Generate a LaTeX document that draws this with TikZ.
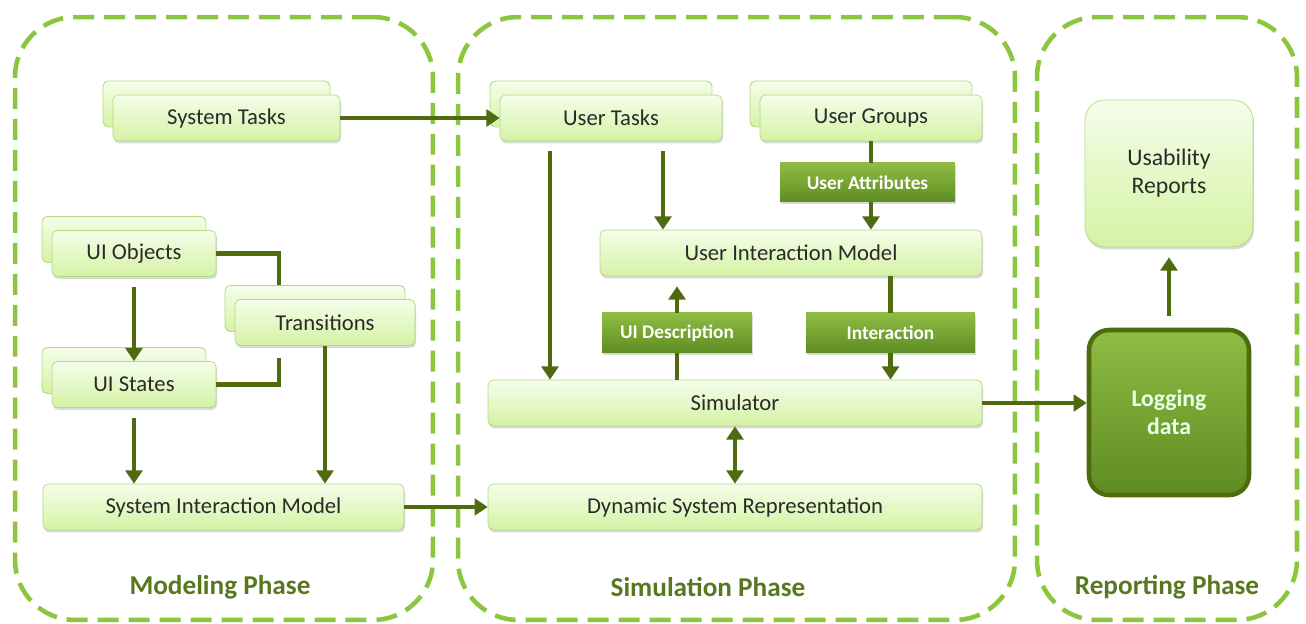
\documentclass[tikz,border=0pt]{standalone}
\usepackage{fontspec}
\setmainfont{Carlito}
\usepackage{tikz}
\usetikzlibrary{arrows.meta,calc,shadows}
\definecolor{FrameLime}{HTML}{8CC63F}
\definecolor{BoxTop}{HTML}{F5FDEA}
\definecolor{BoxBottom}{HTML}{D4F3A4}
\definecolor{BoxBorder}{HTML}{B2D985}
\definecolor{DarkTop}{HTML}{8EBC44}
\definecolor{DarkBottom}{HTML}{5F8C22}
\definecolor{ArrowOlive}{HTML}{4E6B10}
\definecolor{LabelOlive}{HTML}{587820}
\definecolor{TextGray}{HTML}{2A2A2A}

\begin{document}
\begin{tikzpicture}[x=0.02cm, y=-0.02cm,
    phase/.style={draw=FrameLime, line width=2.6pt, dash pattern=on 0.42cm off 0.2cm, rounded corners=1.2cm, inner sep=0pt},
    phaselabel/.style={text=LabelOlive, font=\fontsize{15.5}{18}\selectfont\bfseries},
    item/.style={draw=BoxBorder, top color=BoxTop, bottom color=BoxBottom, rounded corners=3pt, minimum height=0.92cm, text=TextGray, font=\fontsize{12.9}{15}\selectfont, inner sep=0pt, drop shadow={opacity=0.3, shadow xshift=0.6pt, shadow yshift=-1.4pt}},
    stacked/.style={item, copy shadow={shadow xshift=-0.2cm, shadow yshift=0.28cm, draw=BoxBorder, top color=BoxTop, bottom color=BoxBottom}},
    tag/.style={top color=DarkTop, bottom color=DarkBottom, text=white, font=\fontsize{11}{13}\selectfont\bfseries, minimum height=0.8cm, inner sep=0pt, drop shadow={opacity=0.3, shadow xshift=0.6pt, shadow yshift=-1.2pt}},
    arr/.style={-{Triangle[length=7.5pt,width=9.5pt]}, draw=ArrowOlive, line width=2.4pt},
    arrboth/.style={{Triangle[length=7.5pt,width=9.5pt]}-{Triangle[length=7.5pt,width=9.5pt]}, draw=ArrowOlive, line width=2.4pt},
    link/.style={draw=ArrowOlive, line width=2.4pt}
  ]
    \useasboundingbox (0,0) rectangle (1306,624);

    \node[phase, minimum width=8.36cm, minimum height=12.06cm] (modeling) at (224,318.5) {};
    \node[phase, minimum width=11.14cm, minimum height=12.06cm] (simulation) at (736.5,318.5) {};
    \node[phase, minimum width=5.2cm, minimum height=12.06cm] (reporting) at (1167,318.5) {};
    \node[phaselabel] (modlabel) at (220,587) {Modeling Phase};
    \node[phaselabel] (simlabel) at (708,587) {Simulation Phase};
    \node[phaselabel] (replabel) at (1167,587) {Reporting Phase};

    \node[stacked, minimum width=4.54cm] (systasks) at (226.5,118) {System Tasks};
    \node[stacked, minimum width=3.28cm] (uiobj) at (134,253.5) {UI Objects};
    \node[stacked, minimum width=3.6cm] (trans) at (325,322.5) {Transitions};
    \node[stacked, minimum width=3.28cm] (uistates) at (134,384.5) {UI States};
    \node[item, minimum width=7.22cm] (sysmodel) at (223.5,507) {System Interaction Model};

    \node[stacked, minimum width=4.44cm] (usertasks) at (611,118) {User Tasks};
    \node[stacked, minimum width=4.44cm] (usergroups) at (871,118) {User Groups};
    \node[tag, minimum width=3.5cm, minimum height=0.78cm] (userattr) at (867.5,182.5) {User Attributes};
    \node[item, minimum width=7.64cm] (uim) at (791,253) {User Interaction Model};
    \node[tag, minimum width=3cm] (uidesc) at (677,333) {UI Description};
    \node[tag, minimum width=3.38cm] (interact) at (890.5,333) {Interaction};
    \node[item, minimum width=9.88cm] (simulator) at (735,403) {Simulator};
    \node[item, minimum width=9.88cm] (dsr) at (735,507) {Dynamic System Representation};

    \node[item, rounded corners=0.4cm, minimum width=3.36cm, minimum height=2.94cm, align=center, font=\fontsize{13.5}{16}\selectfont] (usability) at (1169,173.5) {Usability\\Reports};
    \node[tag, draw=ArrowOlive, line width=2.6pt, rounded corners=0.4cm, minimum width=3.2cm, minimum height=3.3cm, align=center, text=white!92!green, font=\fontsize{13.5}{16}\selectfont\bfseries] (logging) at (1169,412.5) {Logging\\data};

    \coordinate (ut-left) at ($(usertasks.south)+(-61,0)$);
    \coordinate (ut-right) at ($(usertasks.south)+(52,0)$);
    \coordinate (tr-in) at ($(trans.north)+(-46,-14)$);
    \coordinate (tr-out) at ($(trans.south)+(-46,12)$);

    \draw[arr] (systasks) -- (usertasks);
    \draw[link] (uiobj.east) -| (tr-in);
    \draw[link] (uistates.east) -| (tr-out);
    \draw[arr, shorten <=0.2cm] (uiobj.south) -- (uistates.north);
    \draw[arr, shorten <=0.2cm] (uistates.south) -- (uistates.south |- sysmodel.north);
    \draw[arr] (trans.south) -- (trans.south |- sysmodel.north);
    \draw[arr] (sysmodel) -- (dsr);

    \draw[arr, shorten <=0.2cm] (ut-left) -- (ut-left |- simulator.north);
    \draw[arr, shorten <=0.2cm] (ut-right) -- (ut-right |- uim.north);
    \draw[link] (usergroups.south) -- (usergroups.south |- userattr.north);
    \draw[arr] (usergroups.south |- userattr.south) -- (usergroups.south |- uim.north);
    \draw[link] (uidesc.south |- simulator.north) -- (uidesc.south);
    \draw[arr, shorten >=0.2cm] (uidesc.north) -- (uidesc.north |- uim.south);
    \draw[link] (interact.north |- uim.south) -- (interact.north);
    \draw[arr] (interact.south) -- (interact.south |- simulator.north);
    \draw[arrboth] (simulator) -- (dsr);

    \draw[arr] (simulator.east) -- (simulator.east -| logging.west);
    \draw[arr, shorten <=0.24cm, shorten >=0.2cm] (logging.north) -- (usability.south);
\end{tikzpicture}
\end{document}
